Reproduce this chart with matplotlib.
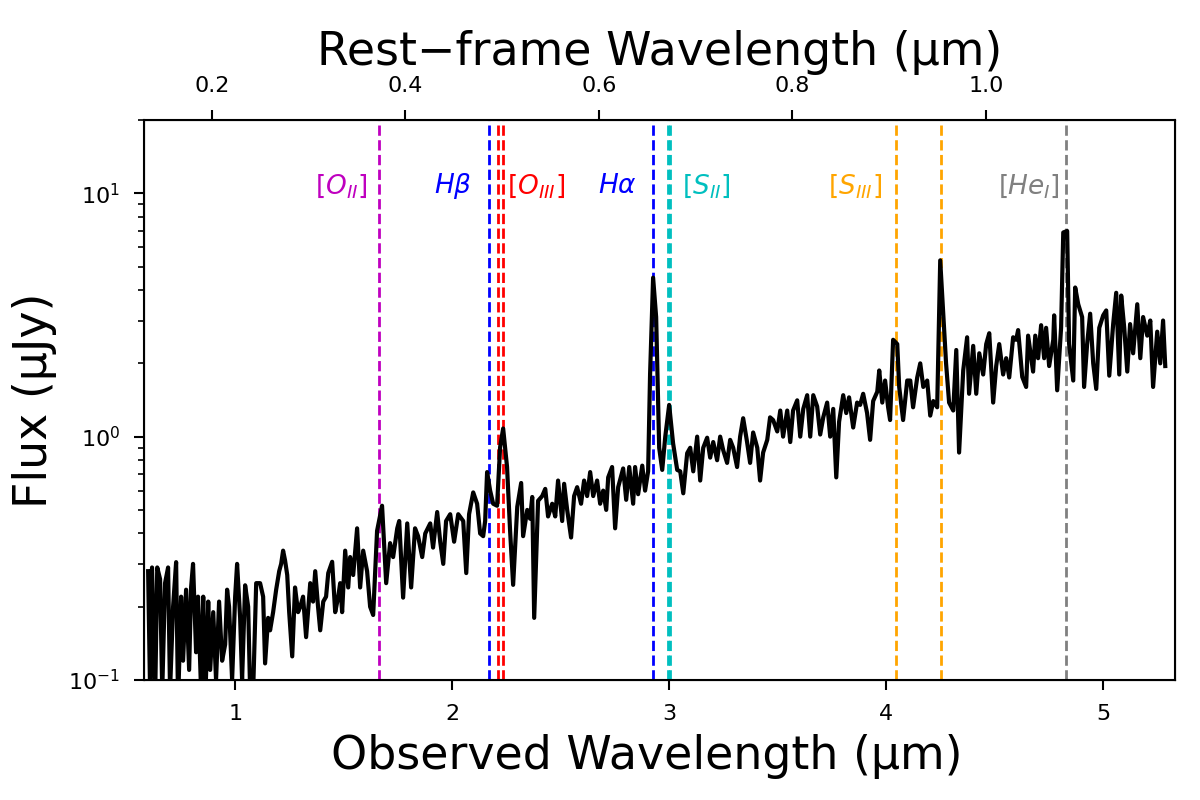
import numpy as np
import matplotlib
matplotlib.use('Agg')
import matplotlib.pyplot as plt

z = 3.46

# observed wavelength (um) and flux (uJy)
wave = [0.599, 0.608, 0.617, 0.631, 0.641, 0.654, 0.664, 0.677, 0.691, 0.700,
        0.714, 0.728, 0.737, 0.751, 0.760, 0.774, 0.788, 0.797, 0.806, 0.820,
        0.829, 0.843, 0.853, 0.862, 0.876, 0.885, 0.899, 0.912, 0.926, 0.940,
        0.954, 0.963, 0.972, 0.986, 1.000, 1.009, 1.023, 1.032, 1.046, 1.060,
        1.069, 1.083, 1.097, 1.115, 1.129, 1.138, 1.152, 1.161, 1.175, 1.189,
        1.203, 1.212, 1.221, 1.230, 1.240, 1.249, 1.263, 1.276, 1.290, 1.300,
        1.313, 1.327, 1.336, 1.346, 1.359, 1.369, 1.382, 1.392, 1.406, 1.419,
        1.429, 1.447, 1.461, 1.475, 1.484, 1.493, 1.507, 1.521, 1.530, 1.544,
        1.562, 1.576, 1.590, 1.608, 1.622, 1.636, 1.654, 1.677, 1.696, 1.714,
        1.728, 1.747, 1.756, 1.774, 1.793, 1.811, 1.829, 1.843, 1.862, 1.876,
        1.899, 1.912, 1.931, 1.945, 1.959, 1.972, 1.991, 2.009, 2.028, 2.051,
        2.065, 2.078, 2.097, 2.115, 2.129, 2.143, 2.152, 2.161, 2.175, 2.189,
        2.207, 2.221, 2.235, 2.253, 2.267, 2.281, 2.300, 2.318, 2.327, 2.346,
        2.359, 2.369, 2.378, 2.396, 2.415, 2.429, 2.442, 2.461, 2.475, 2.488,
        2.507, 2.516, 2.530, 2.548, 2.562, 2.576, 2.594, 2.608, 2.622, 2.636,
        2.650, 2.668, 2.682, 2.696, 2.710, 2.719, 2.737, 2.751, 2.765, 2.788,
        2.802, 2.816, 2.834, 2.843, 2.857, 2.876, 2.889, 2.903, 2.912, 2.926,
        2.940, 2.954, 2.968, 2.982, 3.000, 3.018, 3.037, 3.051, 3.065, 3.083,
        3.097, 3.111, 3.129, 3.143, 3.157, 3.175, 3.189, 3.203, 3.221, 3.235,
        3.249, 3.267, 3.281, 3.295, 3.313, 3.327, 3.341, 3.359, 3.373, 3.387,
        3.406, 3.419, 3.433, 3.452, 3.465, 3.479, 3.498, 3.512, 3.525, 3.544,
        3.558, 3.571, 3.590, 3.604, 3.618, 3.636, 3.650, 3.664, 3.682, 3.696,
        3.710, 3.728, 3.742, 3.756, 3.770, 3.783, 3.802, 3.816, 3.829, 3.848,
        3.866, 3.880, 3.894, 3.912, 3.926, 3.940, 3.959, 3.968, 3.982, 3.995,
        4.009, 4.018, 4.032, 4.051, 4.060, 4.078, 4.097, 4.111, 4.124, 4.143,
        4.157, 4.171, 4.189, 4.203, 4.217, 4.235, 4.249, 4.263, 4.276, 4.290,
        4.309, 4.323, 4.336, 4.355, 4.373, 4.382, 4.401, 4.415, 4.429, 4.447,
        4.461, 4.475, 4.493, 4.507, 4.521, 4.539, 4.553, 4.567, 4.585, 4.599,
        4.608, 4.627, 4.645, 4.654, 4.677, 4.687, 4.700, 4.714, 4.728, 4.737,
        4.751, 4.770, 4.774, 4.788, 4.806, 4.816, 4.834, 4.843, 4.862, 4.871,
        4.885, 4.903, 4.912, 4.926, 4.940, 4.954, 4.968, 4.982, 5.000, 5.014,
        5.028, 5.046, 5.060, 5.074, 5.083, 5.097, 5.111, 5.124, 5.138, 5.157,
        5.171, 5.184, 5.203, 5.217, 5.230, 5.249, 5.263, 5.276, 5.286]

flux = [0.28, 0.09, 0.29, 0.08, 0.29, 0.26, 0.09, 0.25, 0.29, 0.09,
        0.20, 0.305, 0.08, 0.22, 0.12, 0.235, 0.11, 0.24, 0.30, 0.13,
        0.22, 0.09, 0.22, 0.08, 0.21, 0.11, 0.19, 0.10, 0.21, 0.12,
        0.14, 0.235, 0.20, 0.10, 0.22, 0.30, 0.18, 0.10, 0.245, 0.20,
        0.09, 0.09, 0.25, 0.25, 0.22, 0.117, 0.18, 0.16, 0.19, 0.235,
        0.28, 0.30, 0.34, 0.31, 0.27, 0.19, 0.125, 0.24, 0.19, 0.20,
        0.22, 0.15, 0.19, 0.25, 0.21, 0.28, 0.20, 0.16, 0.21, 0.22,
        0.275, 0.306, 0.19, 0.22, 0.25, 0.19, 0.34, 0.24, 0.32, 0.27,
        0.42, 0.24, 0.34, 0.28, 0.20, 0.185, 0.41, 0.52, 0.25, 0.365,
        0.32, 0.42, 0.45, 0.218, 0.44, 0.24, 0.42, 0.39, 0.32, 0.40,
        0.44, 0.35, 0.49, 0.37, 0.30, 0.45, 0.48, 0.37, 0.48, 0.45,
        0.275, 0.48, 0.59, 0.53, 0.40, 0.39, 0.45, 0.715, 0.60, 0.53,
        0.52, 0.905, 1.08, 0.75, 0.41, 0.246, 0.515, 0.645, 0.39, 0.50,
        0.46, 0.565, 0.18, 0.545, 0.57, 0.61, 0.47, 0.53, 0.47, 0.66,
        0.45, 0.64, 0.50, 0.385, 0.57, 0.62, 0.53, 0.66, 0.57, 0.715,
        0.57, 0.66, 0.53, 0.60, 0.50, 0.68, 0.75, 0.42, 0.62, 0.74,
        0.55, 0.75, 0.53, 0.75, 0.58, 0.76, 0.60, 0.72, 1.8, 4.5,
        3.1, 0.90, 0.73, 1.00, 1.35, 0.94, 0.73, 0.72, 0.585, 0.855,
        0.90, 0.72, 1.00, 0.66, 0.90, 0.99, 0.82, 0.95, 0.80, 1.00,
        0.88, 0.78, 0.97, 0.90, 0.75, 1.00, 1.19, 0.95, 0.78, 1.04,
        0.90, 0.66, 0.86, 0.97, 1.20, 1.17, 1.05, 1.28, 1.00, 1.28,
        0.95, 1.28, 1.41, 1.00, 1.30, 1.48, 1.00, 1.48, 1.33, 1.02,
        1.20, 1.38, 1.00, 1.30, 0.68, 1.15, 1.48, 1.25, 1.45, 1.09,
        1.38, 1.35, 1.50, 1.25, 0.97, 1.40, 1.53, 1.87, 1.38, 1.70,
        1.32, 1.17, 2.50, 2.40, 1.60, 1.17, 1.70, 1.70, 1.32, 1.75,
        2.00, 1.60, 1.70, 1.22, 1.40, 1.32, 5.30, 3.20, 2.00, 1.38,
        1.28, 2.27, 0.86, 1.87, 2.56, 1.50, 2.36, 1.50, 2.20, 1.80,
        2.40, 2.66, 1.38, 1.95, 2.40, 1.80, 2.10, 1.75, 2.56, 2.50,
        2.74, 1.76, 1.60, 2.60, 1.85, 2.60, 2.10, 2.87, 2.10, 2.80,
        1.95, 2.50, 3.15, 1.55, 2.80, 6.90, 7.00, 2.40, 1.70, 4.10,
        3.50, 3.10, 1.60, 2.40, 3.20, 2.00, 1.57, 2.80, 3.15, 3.30,
        1.78, 2.90, 3.90, 1.80, 3.80, 2.80, 1.85, 2.90, 2.20, 3.50,
        2.10, 3.10, 2.60, 3.00, 1.60, 2.70, 2.00, 3.00, 1.95]

# emission lines: rest wavelengths (um)
line_names = [r'$[O_{II}]$', r'$H\beta$', r'$[O_{III}]$', r'$H\alpha$',
              r'$[S_{II}]$', r'$[S_{III}]$', r'$[He_{I}]$']
line_rest = [[0.3727], [0.4861], [0.4959, 0.5007], [0.6563],
             [0.6716, 0.6731], [0.9069, 0.9531], [1.0830]]
line_colors = ['m', 'b', 'r', 'b', 'c', 'orange', 'gray']
# label anchor (observed um) and alignment
label_x = [1.613, 2.092, 2.253, 2.853, 3.060, 3.982, 4.802]
label_ha = ['right', 'right', 'left', 'right', 'left', 'right', 'right']

fig = plt.figure(figsize=(12, 8), dpi=100)
ax = fig.add_axes([0.12, 0.15, 0.859, 0.70])

for rest, c in zip(line_rest, line_colors):
    for r in rest:
        ax.axvline(r * (1 + z), color=c, ls='--', lw=2)

ax.plot(wave, flux, color='k', lw=3)

for name, x, ha, c in zip(line_names, label_x, label_ha, line_colors):
    ax.text(x, 10, name, color=c, fontsize=19, ha=ha, va='baseline')

ax.set_yscale('log')
ax.set_xlim(0.58, 5.33)
ax.set_ylim(0.1, 20)
ax.set_xlabel('Observed Wavelength (µm)', fontsize=33)
ax.xaxis.set_label_coords(0.488, -0.097)
ax.set_ylabel('Flux (µJy)', fontsize=33, labelpad=8)
ax.tick_params(which='major', labelsize=16, length=7, width=1.5, pad=10)
ax.tick_params(which='minor', length=4, width=1.2)
for s in ax.spines.values():
    s.set_linewidth(1.5)

ax2 = ax.twiny()
ax2.set_xlim(0.58 / (1 + z), 5.33 / (1 + z))
ax2.set_xticks([0.2, 0.4, 0.6, 0.8, 1.0])
ax2.set_xlabel('Rest\u2212frame Wavelength (µm)', fontsize=33, labelpad=8)
ax2.tick_params(labelsize=16, length=7, width=1.5, pad=10)

fig.savefig('out.png', dpi=100)
